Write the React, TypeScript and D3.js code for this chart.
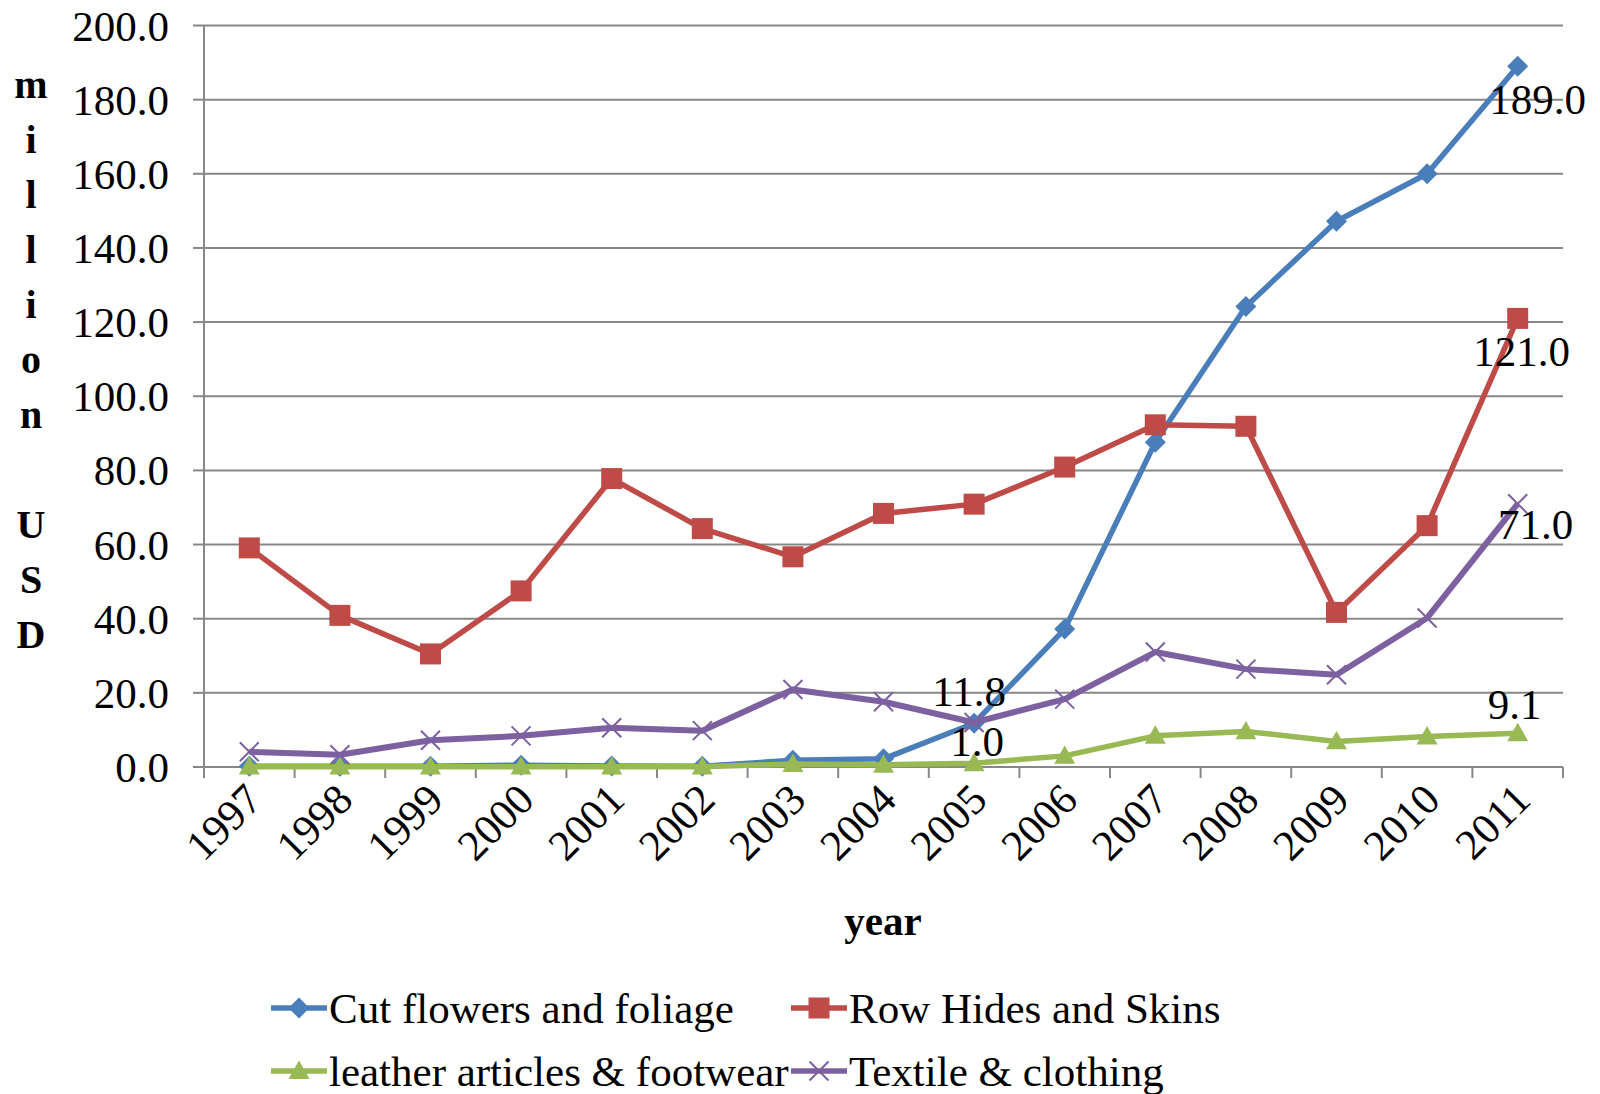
import React from "react";
import * as d3 from "d3";

const years = ["1997","1998","1999","2000","2001","2002","2003","2004","2005","2006","2007","2008","2009","2010","2011"];
const cutFlowers = [0.2,0.2,0.2,0.5,0.3,0.2,1.8,2.2,11.8,37.2,87.6,124.2,147.2,160.0,189.0];
const rowHides = [59.1,40.9,30.5,47.5,77.8,64.3,56.7,68.4,70.9,80.9,92.3,91.9,41.7,65.1,121.0];
const leather = [0.1,0.1,0.1,0.1,0.1,0.1,0.8,0.6,1.0,3.0,8.4,9.6,6.9,8.2,9.1];
const textile = [4.1,3.3,7.2,8.4,10.6,9.8,20.9,17.6,12.0,18.3,31.0,26.4,24.9,40.2,71.0];
const yTicks = [0,20,40,60,80,100,120,140,160,180,200];

const seriesNames = ["Cut flowers and foliage","Row Hides and Skins","leather articles & footwear","Textile & clothing"];
const seriesValues = [cutFlowers, rowHides, leather, textile];
const colors = ["#4A7EBB","#BE4B48","#98B954","#7D60A0"];
const markers = ["diamond","square","triangle","x"];

// data label annotations: series index, year index, text
const labelSeries = [0,1,3,2,0,2];
const labelYear = [14,14,14,14,8,8];
const labelText = ["189.0","121.0","71.0","9.1","11.8","1.0"];
const labelDx = [20,4,18,-3,-5,3];
const labelDy = [48,48,35,-14,-17,-7];

const W = 1600, H = 1094;
const left = 204, right = 1563, top = 25.5, bottom = 767;
const FONT = "'Liberation Serif', 'Times New Roman', serif";
const FS = 43;

function Marker({ kind, x, y, color }: { kind: string; x: number; y: number; color: string }) {
  if (kind === "diamond") {
    const s = 10.5;
    return <path d={`M${x},${y - s}L${x + s},${y}L${x},${y + s}L${x - s},${y}Z`} fill={color} />;
  }
  if (kind === "square") {
    const s = 10.5;
    return <rect x={x - s} y={y - s} width={2 * s} height={2 * s} fill={color} />;
  }
  if (kind === "triangle") {
    const s = 10.5;
    return <path d={`M${x},${y - s}L${x + s},${y + s * 0.75}L${x - s},${y + s * 0.75}Z`} fill={color} />;
  }
  const s = 9.5;
  return (
    <path d={`M${x - s},${y - s}L${x + s},${y + s}M${x - s},${y + s}L${x + s},${y - s}`} stroke={color} strokeWidth={2} fill="none" />
  );
}

export default function App() {
  const x = d3.scaleBand<string>().domain(years).range([left, right]);
  const cx = (yr: string) => (x(yr) as number) + x.bandwidth() / 2;
  const y = d3.scaleLinear().domain([0, 200]).range([bottom, top]);
  const line = d3.line<number>().x((_, i) => cx(years[i])).y((v) => y(v));

  const boundaries = years.map((yr) => x(yr) as number).concat([right]);
  const legendPos = [
    { lx: 271, ly: 1008 },
    { lx: 791, ly: 1008 },
    { lx: 271, ly: 1071 },
    { lx: 791, ly: 1071 },
  ];
  const yTitle = ["m","i","l","l","i","o","n","","U","S","D"];

  return (
    <svg width={W} height={H} style={{ position: "absolute", left: 0, top: 0, background: "#fff" }} fontFamily={FONT}>
      <rect width={W} height={H} fill="#fff" />
      {yTicks.map((t) => (
        <g key={t}>
          {t > 0 && <line x1={left} x2={right} y1={y(t)} y2={y(t)} stroke="#878787" strokeWidth={2} />}
          <line x1={left - 11} x2={left} y1={y(t)} y2={y(t)} stroke="#878787" strokeWidth={2} />
          <text x={169} y={y(t)} dy="0.35em" textAnchor="end" fontSize={FS} fill="#000">{t.toFixed(1)}</text>
        </g>
      ))}
      <line x1={left} x2={left} y1={top} y2={bottom} stroke="#878787" strokeWidth={2} />
      <line x1={left} x2={right} y1={bottom} y2={bottom} stroke="#878787" strokeWidth={2} />
      {boundaries.map((b, i) => (
        <line key={i} x1={b} x2={b} y1={bottom} y2={bottom + 11} stroke="#878787" strokeWidth={2} />
      ))}
      {years.map((yr) => (
        <text key={yr} transform={`translate(${cx(yr) + 15},${bottom + 35}) rotate(-45)`} textAnchor="end" fontSize={FS} fill="#000">{yr}</text>
      ))}
      {yTitle.map((c, i) => (
        <text key={i} x={31} y={84 + i * 55} dy="0.35em" textAnchor="middle" fontSize={40} fontWeight="bold" fill="#000">{c}</text>
      ))}
      <text x={883} y={921} dy="0.35em" textAnchor="middle" fontSize={41} fontWeight="bold" fill="#000">year</text>

      {seriesValues.map((vals, si) => (
        <g key={si}>
          <path d={line(vals) || ""} fill="none" stroke={colors[si]} strokeWidth={si === 3 ? 6 : 5.5} strokeLinejoin="round" />
          {vals.map((v, i) => (
            <Marker key={i} kind={markers[si]} x={cx(years[i])} y={y(v)} color={colors[si]} />
          ))}
        </g>
      ))}

      {labelText.map((t, i) => (
        <text key={i} x={cx(years[labelYear[i]]) + labelDx[i]} y={y(seriesValues[labelSeries[i]][labelYear[i]]) + labelDy[i]} textAnchor="middle" fontSize={FS} fill="#000">{t}</text>
      ))}

      {seriesNames.map((name, si) => {
        const { lx, ly } = legendPos[si];
        return (
          <g key={name}>
            <line x1={lx} x2={lx + 56} y1={ly} y2={ly} stroke={colors[si]} strokeWidth={5.5} />
            <Marker kind={markers[si]} x={lx + 28} y={ly} color={colors[si]} />
            <text x={lx + 58} y={ly} dy="0.35em" fontSize={FS} fill="#000">{name}</text>
          </g>
        );
      })}
    </svg>
  );
}
